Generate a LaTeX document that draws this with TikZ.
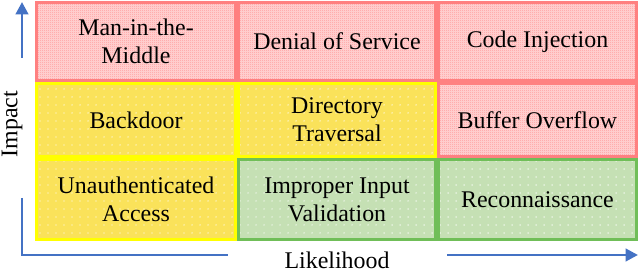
\documentclass[tikz,border=0pt]{standalone}
\usepackage{fontspec}
\setmainfont{Liberation Serif}
\usetikzlibrary{arrows.meta,patterns.meta}

\definecolor{riskred}{RGB}{255,128,128}
\definecolor{riskyellow}{RGB}{250,226,90}
\definecolor{yellowline}{RGB}{255,255,0}
\definecolor{riskgreen}{RGB}{197,224,180}
\definecolor{greenline}{RGB}{112,190,88}
\definecolor{axisblue}{RGB}{68,114,196}

% fine checker for the high-impact cells
\tikzdeclarepattern{
  name=finechecker,
  type=uncolored,
  bottom left={(0pt,0pt)},
  top right={(1.4226pt,1.4226pt)},
  tile size={(1.4226pt,1.4226pt)},
  code={
    \fill (0pt,0pt) rectangle (0.7113pt,0.7113pt);
    \fill (0.7113pt,0.7113pt) rectangle (1.4226pt,1.4226pt);
  }
}

% sparse dots for the other cells
\tikzdeclarepattern{
  name=sparsedots,
  type=uncolored,
  bottom left={(-1pt,-1pt)},
  top right={(1pt,1pt)},
  tile size={(5.69pt,5.69pt)},
  code={\fill (0pt,0pt) circle (0.5pt);}
}

\begin{document}
\begin{tikzpicture}[x=0.025cm, y=-0.025cm, >={Triangle[width=0.31cm,length=0.31cm]}]

% --- Styles ---
\tikzset{
    redcell/.style={draw=riskred, line width=2.3pt, preaction={fill=riskred!30},
        pattern=finechecker, pattern color=riskred},
    yellowcell/.style={draw=yellowline, line width=2.3pt, preaction={fill=riskyellow},
        pattern=sparsedots, pattern color=white},
    greencell/.style={draw=greenline, line width=2.3pt, preaction={fill=riskgreen},
        pattern=sparsedots, pattern color=white},
    celltext/.style={font=\fontsize{17}{20}\selectfont, align=center, text=black},
    axislabel/.style={font=\fontsize{17}{20}\selectfont, text=black, inner sep=0pt},
    axis/.style={draw=axisblue, line width=2.1pt}
}

\useasboundingbox (0,0) rectangle (640,273);

% --- Row 1: high impact ---
\path[redcell] (36.5,2.5) rectangle (235.5,80.5);
\node[celltext] (mitm) at (136,41.5) {Man-in-the-\\Middle};
\path[redcell] (238.5,2.5) rectangle (435.5,80.5);
\node[celltext] (dos) at (337,41.5) {Denial of Service};
\path[redcell] (438.5,2.5) rectangle (636.5,80.5);
\node[celltext] (codeinj) at (537.5,41.5) {Code Injection};

% --- Row 2 ---
\path[yellowcell] (36.5,83.5) rectangle (235.5,156.5);
\node[celltext] (backdoor) at (136,120) {Backdoor};
\path[yellowcell] (238.5,83.5) rectangle (435.5,156.5);
\node[celltext] (dirtrav) at (337,120) {Directory\\Traversal};
\path[redcell] (438.5,83.5) rectangle (636.5,156.5);
\node[celltext] (bufover) at (537.5,120) {Buffer Overflow};

% --- Row 3: low impact ---
\path[yellowcell] (36.5,159.5) rectangle (235.5,239.5);
\node[celltext] (unauth) at (136,199.5) {Unauthenticated\\Access};
\path[greencell] (238.5,159.5) rectangle (435.5,239.5);
\node[celltext] (improper) at (337,199.5) {Improper Input\\Validation};
\path[greencell] (438.5,159.5) rectangle (636.5,239.5);
\node[celltext] (recon) at (537.5,199.5) {Reconnaissance};

% --- Axes ---
\coordinate (impbot) at (22,58);
\coordinate (imptop) at (22,2);
\coordinate (cornerup) at (22,198);
\coordinate (corner) at (22,255);
\coordinate (cornerright) at (228,255);
\coordinate (likstart) at (447,255);
\coordinate (likend) at (638,255);

\draw[axis,->] (impbot) -- (imptop);
\draw[axis] (cornerup) -- (corner) -- (cornerright);
\draw[axis,->] (likstart) -- (likend);

\node[axislabel, rotate=90] (impact) at (12,124) {Impact};
\node[axislabel] (likelihood) at (337,260) {Likelihood};

\end{tikzpicture}
\end{document}
